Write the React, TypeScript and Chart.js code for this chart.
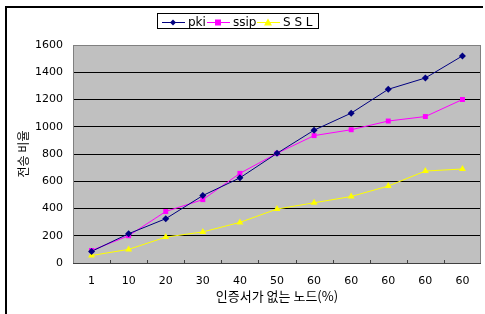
import { useEffect, useRef } from "react";
import { Chart, registerables } from "chart.js";

Chart.register(...registerables);

const categories = ["1", "10", "20", "30", "40", "50", "60", "60", "60", "60", "60"];
const pki = [85, 215, 325, 495, 625, 805, 975, 1100, 1275, 1358, 1520];
const ssip = [92, 200, 378, 465, 658, 805, 935, 978, 1042, 1075, 1200];
const ssl = [55, 100, 190, 228, 298, 396, 442, 488, 565, 675, 690];
const yMin = 0;
const yMax = 1600;
const yStep = 200;
const seriesNames = ["pki", "ssip", "S S L"];
const xTitle = "인증서가 없는 노드(%)";
const yTitle = "전송 비율";

const TICK_FONT = "'DejaVu Sans', 'Noto Sans CJK KR', sans-serif";
const TITLE_FONT = "'Noto Sans CJK KR', 'DejaVu Sans', sans-serif";

const plotPlugin = {
  id: "plotDecor",
  beforeDraw(chart: any) {
    const { ctx, chartArea: a } = chart;
    ctx.save();
    ctx.fillStyle = "#C0C0C0";
    ctx.fillRect(a.left, a.top, a.right - a.left, a.bottom - a.top);
    ctx.restore();
  },
  beforeDatasetsDraw(chart: any) {
    const { ctx, chartArea: a } = chart;
    const xs = chart.scales.x;
    ctx.save();
    ctx.strokeStyle = "#808080";
    ctx.lineWidth = 1;
    ctx.strokeRect(Math.round(a.left) + 0.5, Math.round(a.top) + 0.5, Math.round(a.right - a.left) - 1, Math.round(a.bottom - a.top));
    ctx.strokeStyle = "#404040";
    ctx.beginPath();
    ctx.moveTo(a.left, Math.round(a.bottom) + 0.5);
    ctx.lineTo(a.right, Math.round(a.bottom) + 0.5);
    for (let i = 1; i < categories.length; i++) {
      const x = Math.round((xs.getPixelForValue(i - 1) + xs.getPixelForValue(i)) / 2) + 0.5;
      ctx.moveTo(x, a.bottom - 3);
      ctx.lineTo(x, a.bottom);
    }
    ctx.stroke();
    ctx.restore();
  },
};

function LegendItem({ left, kind, color, label }: { left: number; kind: string; color: string; label: string }) {
  const cx = 11;
  let marker: any = null;
  if (kind === "diamond") marker = <polygon points={`${cx},5.5 ${cx + 3},8.5 ${cx},11.5 ${cx - 3},8.5`} fill={color} />;
  if (kind === "square") marker = <rect x={cx - 3} y={5.5} width={6} height={6} fill={color} />;
  if (kind === "triangle") marker = <polygon points={`${cx},4.5 ${cx + 4},11.5 ${cx - 4},11.5`} fill={color} />;
  return (
    <div style={{ position: "absolute", left, top: 0, height: 16, display: "flex", alignItems: "center" }}>
      <svg width={23} height={16} style={{ display: "block" }}>
        <line x1={0} y1={8.5} x2={23} y2={8.5} stroke={color} strokeWidth={1} />
        {marker}
      </svg>
      <span style={{ marginLeft: 3, font: `12px ${TICK_FONT}`, color: "#000", lineHeight: "16px", whiteSpace: "pre" }}>{label}</span>
    </div>
  );
}

export default function App() {
  const canvasRef = useRef<HTMLCanvasElement | null>(null);

  useEffect(() => {
    const canvas = canvasRef.current;
    if (!canvas) return;
    const chart = new Chart(canvas, {
      type: "line",
      data: {
        labels: categories,
        datasets: [
          {
            label: seriesNames[0],
            data: pki,
            borderColor: "#000080",
            backgroundColor: "#000080",
            borderWidth: 1,
            pointStyle: "rectRot",
            pointRadius: 3.5,
            pointBorderWidth: 0,
            tension: 0,
          },
          {
            label: seriesNames[1],
            data: ssip,
            borderColor: "#FF00FF",
            backgroundColor: "#FF00FF",
            borderWidth: 1,
            pointStyle: "rect",
            pointRadius: 3.5,
            pointBorderWidth: 0,
            tension: 0,
          },
          {
            label: seriesNames[2],
            data: ssl,
            borderColor: "#FFFF00",
            backgroundColor: "#FFFF00",
            borderWidth: 1,
            pointStyle: "triangle",
            pointRadius: 4,
            pointBorderWidth: 0,
            tension: 0,
          },
        ],
      },
      options: {
        animation: false,
        responsive: false,
        maintainAspectRatio: false,
        layout: { padding: { top: 45, right: 3, bottom: 0, left: 0 } },
        plugins: {
          legend: { display: false },
          tooltip: { enabled: false },
        },
        scales: {
          x: {
            type: "category",
            offset: true,
            grid: { display: false, drawTicks: false },
            border: { display: false },
            ticks: { color: "#000", font: { family: TICK_FONT, size: 11 }, padding: 12, maxRotation: 0, autoSkip: false },
            title: {
              display: true,
              text: xTitle,
              color: "#000",
              font: { family: TITLE_FONT, size: 13 },
              padding: { top: 0, bottom: 10 },
            },
            afterFit: (s: any) => {
              s.height = 51;
            },
          },
          y: {
            min: yMin,
            max: yMax,
            grid: {
              drawTicks: false,
              color: (c: any) => (c.tick && (c.tick.value === yMin || c.tick.value === yMax) ? "rgba(0,0,0,0)" : "#000000"),
              lineWidth: 1,
            },
            border: { display: false },
            ticks: {
              stepSize: yStep,
              color: "#000",
              font: { family: TICK_FONT, size: 11 },
              padding: 10,
              callback: (v: any) => String(v),
            },
            title: {
              display: true,
              text: yTitle,
              color: "#000",
              font: { family: TITLE_FONT, size: 12 },
              padding: { top: 16, bottom: 0 },
            },
            afterFit: (s: any) => {
              s.width = 73;
            },
          },
        },
      },
      plugins: [plotPlugin],
    });
    return () => chart.destroy();
  }, []);

  return (
    <div style={{ position: "fixed", left: 0, top: 0, width: 485, height: 314, background: "#fff", overflow: "hidden" }}>
      <canvas ref={canvasRef} width={485} height={314} style={{ position: "absolute", left: 0, top: 0, width: 485, height: 314 }} />
      <div style={{ position: "absolute", left: 5, top: 6, width: 478, height: 2, background: "#000" }} />
      <div style={{ position: "absolute", left: 5, top: 6, width: 2, height: 308, background: "#000" }} />
      <div style={{ position: "absolute", left: 157, top: 13, width: 162, height: 16, border: "1px solid #000", boxSizing: "border-box", background: "#fff" }}>
        <LegendItem left={4} kind="diamond" color="#000080" label={seriesNames[0]} />
        <LegendItem left={49} kind="square" color="#FF00FF" label={seriesNames[1]} />
        <LegendItem left={99} kind="triangle" color="#FFFF00" label={seriesNames[2]} />
      </div>
    </div>
  );
}
